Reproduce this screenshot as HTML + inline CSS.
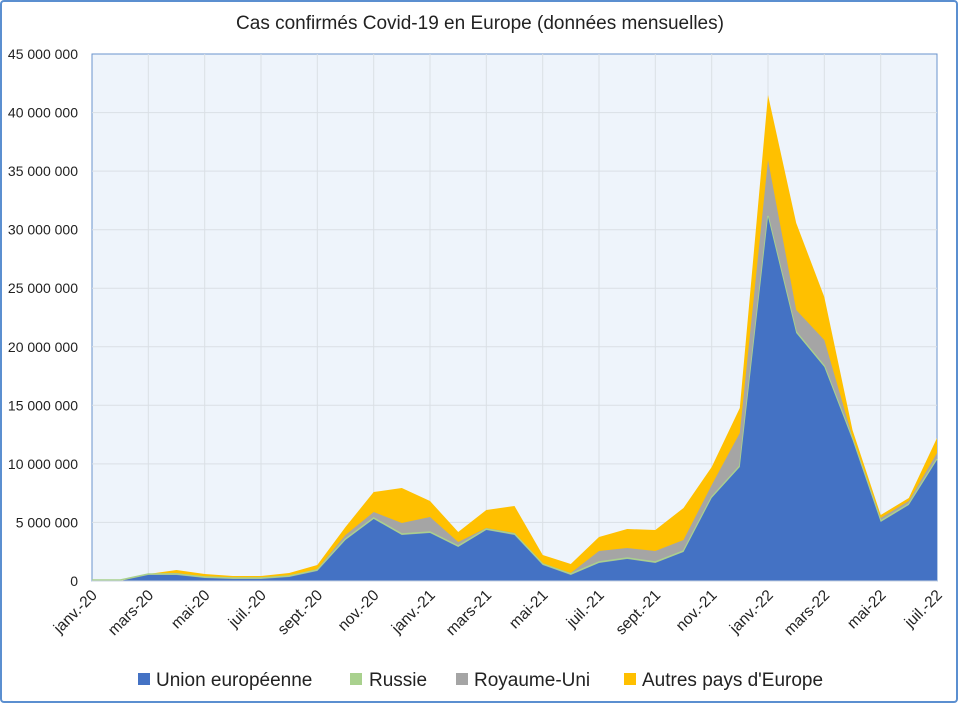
<!DOCTYPE html>
<html><head><meta charset="utf-8"><style>
html,body{margin:0;padding:0;background:#fff;}
svg{display:block;font-family:"Liberation Sans",sans-serif;}
</style></head><body>
<svg width="960" height="704" viewBox="0 0 960 704" xmlns="http://www.w3.org/2000/svg">
<rect x="1" y="1" width="956" height="701" rx="3" fill="#fff" stroke="#5b8fd0" stroke-width="2"/>
<text x="480" y="29" text-anchor="middle" font-size="19" fill="#222">Cas confirmés Covid-19 en Europe (données mensuelles)</text>
<rect x="92" y="54" width="845" height="527" fill="#eef4fb" stroke="#6a93cc" stroke-width="1"/>
<g stroke="#dadfe5" stroke-width="1">
<line x1="92" y1="112.6" x2="937" y2="112.6"/><line x1="92" y1="171.1" x2="937" y2="171.1"/><line x1="92" y1="229.7" x2="937" y2="229.7"/><line x1="92" y1="288.2" x2="937" y2="288.2"/><line x1="92" y1="346.8" x2="937" y2="346.8"/><line x1="92" y1="405.3" x2="937" y2="405.3"/><line x1="92" y1="463.9" x2="937" y2="463.9"/><line x1="92" y1="522.4" x2="937" y2="522.4"/>
<line x1="148.3" y1="54" x2="148.3" y2="581"/><line x1="204.7" y1="54" x2="204.7" y2="581"/><line x1="261" y1="54" x2="261" y2="581"/><line x1="317.3" y1="54" x2="317.3" y2="581"/><line x1="373.7" y1="54" x2="373.7" y2="581"/><line x1="430" y1="54" x2="430" y2="581"/><line x1="486.3" y1="54" x2="486.3" y2="581"/><line x1="542.7" y1="54" x2="542.7" y2="581"/><line x1="599" y1="54" x2="599" y2="581"/><line x1="655.3" y1="54" x2="655.3" y2="581"/><line x1="711.7" y1="54" x2="711.7" y2="581"/><line x1="768" y1="54" x2="768" y2="581"/><line x1="824.3" y1="54" x2="824.3" y2="581"/><line x1="880.7" y1="54" x2="880.7" y2="581"/>
</g>
<polygon fill="#ffc000" points="92,581 120.2,581 148.3,574 176.5,570 204.7,574 232.8,576 261,576 289.2,573 317.3,565 345.5,527 373.7,492 401.8,488 430,501 458.2,532 486.3,510 514.5,506 542.7,555 570.8,564 599,537 627.2,529 655.3,530 683.5,508 711.7,467 739.8,408 768,95 796.2,223 824.3,297 852.5,430 880.7,515 908.8,498 937,438 937,581"/>
<polygon fill="#a5a5a5" points="92,581 120.2,581 148.3,574 176.5,573 204.7,577 232.8,578 261,578 289.2,576 317.3,569 345.5,535 373.7,512 401.8,523 430,517 458.2,542 486.3,528 514.5,533 542.7,564 570.8,573 599,551 627.2,548 655.3,551 683.5,540 711.7,485 739.8,433 768,160 796.2,310 824.3,340 852.5,437 880.7,518 908.8,501 937,453 937,581"/>
<polyline fill="none" stroke="#a9d18e" stroke-width="1.5" points="92,580 120.2,580 148.3,574 176.5,574 204.7,577 232.8,578 261,578 289.2,576 317.3,570 345.5,539 373.7,518 401.8,534 430,532 458.2,546 486.3,529 514.5,534 542.7,564 570.8,574 599,562 627.2,558 655.3,562 683.5,551 711.7,497 739.8,466 768,216 796.2,332 824.3,366 852.5,439 880.7,521 908.8,504 937,459"/>
<polygon fill="#4472c4" points="92,581 120.2,581 148.3,575 176.5,575 204.7,578 232.8,579 261,579 289.2,577 317.3,571 345.5,540 373.7,519 401.8,535 430,533 458.2,547 486.3,530 514.5,535 542.7,565 570.8,575 599,563 627.2,559 655.3,563 683.5,552 711.7,498 739.8,467 768,217 796.2,333 824.3,367 852.5,440 880.7,522 908.8,505 937,460 937,581"/>
<line x1="92" y1="581" x2="937" y2="581" stroke="#c9d3e0" stroke-width="1"/>
<g font-size="14" fill="#222" text-anchor="end">
<text x="78" y="59">45 000 000</text><text x="78" y="117.6">40 000 000</text><text x="78" y="176.1">35 000 000</text><text x="78" y="234.7">30 000 000</text><text x="78" y="293.2">25 000 000</text><text x="78" y="351.8">20 000 000</text><text x="78" y="410.3">15 000 000</text><text x="78" y="468.9">10 000 000</text><text x="78" y="527.4">5 000 000</text><text x="78" y="586">0</text>
</g>
<g font-size="15.5" fill="#222" text-anchor="end">
<text transform="translate(98,596) rotate(-45)">janv.-20</text>
<text transform="translate(154.3,596) rotate(-45)">mars-20</text>
<text transform="translate(210.7,596) rotate(-45)">mai-20</text>
<text transform="translate(267,596) rotate(-45)">juil.-20</text>
<text transform="translate(323.3,596) rotate(-45)">sept.-20</text>
<text transform="translate(379.7,596) rotate(-45)">nov.-20</text>
<text transform="translate(436,596) rotate(-45)">janv.-21</text>
<text transform="translate(492.3,596) rotate(-45)">mars-21</text>
<text transform="translate(548.7,596) rotate(-45)">mai-21</text>
<text transform="translate(605,596) rotate(-45)">juil.-21</text>
<text transform="translate(661.3,596) rotate(-45)">sept.-21</text>
<text transform="translate(717.7,596) rotate(-45)">nov.-21</text>
<text transform="translate(774,596) rotate(-45)">janv.-22</text>
<text transform="translate(830.3,596) rotate(-45)">mars-22</text>
<text transform="translate(886.7,596) rotate(-45)">mai-22</text>
<text transform="translate(943,596) rotate(-45)">juil.-22</text>
</g>
<g font-size="19" fill="#222">
<rect x="138" y="673" width="12" height="12" fill="#4472c4"/><text x="156" y="686">Union européenne</text>
<rect x="350" y="673" width="12" height="12" fill="#a9d18e"/><text x="369" y="686">Russie</text>
<rect x="456" y="673" width="12" height="12" fill="#a5a5a5"/><text x="474" y="686">Royaume-Uni</text>
<rect x="624" y="673" width="12" height="12" fill="#ffc000"/><text x="642" y="686">Autres pays d'Europe</text>
</g>
</svg>
</body></html>
